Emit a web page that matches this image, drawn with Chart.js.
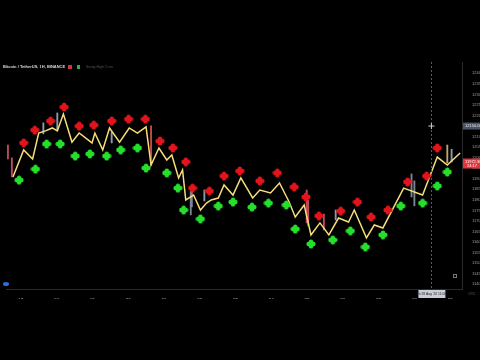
<!DOCTYPE html>
<html>
<head>
<meta charset="utf-8">
<script src="https://cdn.jsdelivr.net/npm/chart.js@4/dist/chart.umd.min.js"></script>
<style>
  body { margin: 0; background: #000; }
  #wrap { width: 480px; height: 360px; }
</style>
</head>
<body>
<div id="wrap"><canvas id="chart" width="480" height="360"></canvas></div>
<script>
// x = day of month (Aug 2020), y = price
const dayTicks = [17, 18, 19, 20, 21, 22, 23, 24, 25, 26, 27, 28, 29];
const dayLabels = ['17', '18', '19', '20', '21', '22', '23', '24', '25', '26', '27', '28', '29'];
const priceTicks = [12400, 12350, 12300, 12250, 12200, 12150, 12100, 12050, 12000, 11950, 11900,
    11850, 11800, 11750, 11700, 11650, 11600, 11550, 11500, 11450, 11400];

// yellow line
const lineDays = [16.78, 17.08, 17.33, 17.50, 17.69, 17.88, 18.02, 18.19, 18.43, 18.63, 18.99, 19.07, 19.29,
    19.48, 19.76, 20.03, 20.26, 20.50, 20.64, 20.86, 21.08, 21.22, 21.41, 21.52, 21.61, 21.83, 22.02, 22.19,
    22.32, 22.52, 22.68, 22.93, 23.15, 23.48, 23.68, 23.98, 24.23, 24.50, 24.67, 24.92, 25.11, 25.36, 25.61,
    25.88, 26.16, 26.32, 26.66, 26.88, 27.12, 27.70, 28.23, 28.64, 28.92, 29.28];
const linePrices = [11909, 12037, 11994, 12117, 12127, 12141, 12127, 12207, 12074, 12117, 12070, 12117, 12037,
    12141, 12074, 12141, 12117, 12146, 11965, 12046, 11989, 12013, 11904, 11942, 11800, 11823, 11752, 11785,
    11800, 11809, 11871, 11823, 11904, 11809, 11847, 11833, 11880, 11790, 11719, 11776, 11634, 11691, 11634,
    11714, 11695, 11752, 11620, 11681, 11667, 11856, 11823, 12003, 11965, 12022];

// red markers (tops)
const redDays = [17.08, 17.39, 17.83, 18.21, 18.63, 19.04, 19.54, 20.01, 20.48, 20.89, 21.25, 21.61, 21.80,
    22.27, 22.68, 23.12, 23.68, 24.17, 24.64, 24.97, 25.33, 25.94, 26.41, 26.79, 27.26, 27.81, 28.34, 28.64];
const redPrices = [12070, 12131, 12174, 12240, 12150, 12155, 12174, 12183, 12183, 12079, 12046, 11980, 11856,
    11842, 11913, 11937, 11890, 11928, 11861, 11814, 11724, 11747, 11790, 11719, 11752, 11885, 11913, 12046];

// green markers (bottoms)
const greenDays = [16.95, 17.41, 17.72, 18.10, 18.52, 18.93, 19.40, 19.79, 20.26, 20.50, 21.08, 21.39, 21.55,
    22.02, 22.52, 22.93, 23.46, 23.92, 24.42, 24.67, 25.11, 25.72, 26.21, 26.63, 27.12, 27.62, 28.23, 28.64, 28.92];
const greenPrices = [11894, 11946, 12065, 12065, 12008, 12018, 12008, 12037, 12046, 11951, 11928, 11856, 11752,
    11710, 11771, 11790, 11766, 11785, 11776, 11662, 11591, 11610, 11653, 11577, 11634, 11771, 11785, 11866, 11932];

// a few visible candle wicks
const candleDays = [16.64, 16.75, 17.63, 18.02, 19.54, 20.64, 21.75, 21.78, 22.13, 24.99, 25.03, 25.47, 25.80,
    27.92, 28.00, 28.92, 29.04];
const candleLows = [11994, 11909, 12113, 12132, 12070, 11965, 11729, 11767, 11795, 11691, 11677, 11658, 11705,
    11814, 11772, 11975, 11980];
const candleHighs = [12060, 11999, 12165, 12212, 12122, 12151, 11842, 11860, 11847, 11847, 11800, 11733, 11752,
    11923, 11890, 12060, 12040];
const candleColors = ['#c24a63', '#c24a63', '#8d9bb0', '#8d9bb0', '#8d9bb0', '#c94b4b', '#7b8794', '#7b8794',
    '#8d9bb0', '#c24a63', '#c24a63', '#c24a63', '#8d9bb0', '#7b8794', '#7b8794', '#c9a06a', '#8d9bb0'];

const crossDay = 28.476, crossPrice = 12150;
const lastPrice = 11972.36;

function clover(color) {
    const c = document.createElement('canvas');
    c.width = 10; c.height = 10;
    const g = c.getContext('2d');
    g.fillStyle = color;
    g.beginPath();
    g.arc(5, 5, 3, 0, Math.PI * 2);
    g.fill();
    [[5, 2.6], [5, 7.4], [2.6, 5], [7.4, 5]].forEach(p => {
        g.beginPath();
        g.arc(p[0], p[1], 2.2, 0, Math.PI * 2);
        g.fill();
    });
    return c;
}

const FONT = 'Liberation Sans';

const overlay = {
    id: 'overlay',
    afterDatasetsDraw(chart) {
        const ctx = chart.ctx;
        const x = chart.scales.x, y = chart.scales.y;
        const area = chart.chartArea;
        ctx.save();
        // crosshair vertical line
        const cx = x.getPixelForValue(crossDay), cy = y.getPixelForValue(crossPrice);
        ctx.strokeStyle = '#5a5a5a';
        ctx.lineWidth = 1;
        ctx.setLineDash([2, 2]);
        ctx.beginPath();
        ctx.moveTo(Math.round(cx) + 0.5, area.top);
        ctx.lineTo(Math.round(cx) + 0.5, area.bottom);
        ctx.stroke();
        ctx.setLineDash([]);
        ctx.strokeStyle = '#cfcfcf';
        ctx.beginPath();
        ctx.moveTo(cx - 3, cy); ctx.lineTo(cx + 3, cy);
        ctx.moveTo(cx, cy - 3); ctx.lineTo(cx, cy + 3);
        ctx.stroke();

        // header
        ctx.font = 'bold 4px ' + FONT;
        ctx.textBaseline = 'middle';
        ctx.fillStyle = '#d8d8d8';
        ctx.fillText('Bitcoin / TetherUS, 1H, BINANCE', 3, 67);
        ctx.fillStyle = '#d0333b';
        ctx.fillRect(68, 65, 4, 4);
        ctx.fillStyle = '#2fae4a';
        ctx.fillRect(77, 65, 3, 4);
        ctx.font = '3.5px ' + FONT;
        ctx.fillStyle = '#555';
        ctx.fillText('Swing High / Low', 86, 67);

        // crosshair price label
        ctx.fillStyle = '#4b5466';
        ctx.fillRect(area.right + 1, cy - 3.5, 18, 7);
        ctx.fillStyle = '#e8e8e8';
        ctx.font = '4px ' + FONT;
        ctx.textAlign = 'left';
        ctx.fillText(crossPrice.toFixed(2), area.right + 3, cy);

        // last price label
        const ly = y.getPixelForValue(lastPrice);
        ctx.fillStyle = '#e3343c';
        ctx.fillRect(area.right + 1, ly - 5, 18, 10);
        ctx.fillStyle = '#fff';
        ctx.fillText(lastPrice.toFixed(2), area.right + 3, ly - 2);
        ctx.fillText('24:17', area.right + 5, ly + 2.5);

        // crosshair date label
        ctx.fillStyle = '#c9cdd6';
        ctx.fillRect(cx - 13, area.bottom + 1, 27, 8);
        ctx.fillStyle = '#1a1a1a';
        ctx.font = '3.3px ' + FONT;
        ctx.textAlign = 'center';
        ctx.fillText("Fri 28 Aug '20 11:00", cx, area.bottom + 5);

        // logo + small icons
        ctx.fillStyle = '#2a6fd6';
        ctx.beginPath();
        ctx.ellipse(6, 284, 3, 2, 0, 0, Math.PI * 2);
        ctx.fill();
        ctx.strokeStyle = '#777';
        ctx.strokeRect(453.5, 274.5, 3, 3);
        ctx.fillStyle = '#666';
        ctx.fillText('UTC', 472, area.bottom + 5);
        ctx.restore();
    }
};

const lineData = lineDays.map((d, i) => ({ x: d, y: linePrices[i] }));
const redData = redDays.map((d, i) => ({ x: d, y: redPrices[i] }));
const greenData = greenDays.map((d, i) => ({ x: d, y: greenPrices[i] }));
const candleData = candleDays.map((d, i) => ({ x: d, y: [candleLows[i], candleHighs[i]] }));

new Chart(document.getElementById('chart'), {
    type: 'line',
    data: {
        datasets: [
            {
                type: 'scatter', data: redData, order: 0,
                pointStyle: clover('#e3141c'), pointRadius: 5
            },
            {
                type: 'scatter', data: greenData, order: 0,
                pointStyle: clover('#25e02c'), pointRadius: 5
            },
            {
                type: 'line', data: lineData, order: 1,
                borderColor: '#f6dd78', borderWidth: 1.5, pointRadius: 0, tension: 0
            },
            {
                type: 'bar', data: candleData, order: 2,
                backgroundColor: candleColors, barThickness: 1.2, borderWidth: 0
            }
        ]
    },
    options: {
        responsive: false,
        animation: false,
        layout: { padding: { top: 62, bottom: 61, left: 0, right: 0 } },
        plugins: { legend: { display: false }, tooltip: { enabled: false } },
        scales: {
            x: {
                type: 'linear', min: 16.586, max: 29.331, offset: false,
                grid: { display: false, offset: false },
                border: { color: '#2a2a2a' },
                afterBuildTicks: s => { s.ticks = dayTicks.map(v => ({ value: v })); },
                afterFit: s => { s.height = 10; },
                ticks: {
                    autoSkip: false, maxRotation: 0, padding: 1,
                    color: '#a0a0a0', font: { family: FONT, size: 4.5 },
                    callback: v => dayLabels[dayTicks.indexOf(v)]
                }
            },
            y: {
                type: 'linear', position: 'right', min: 11377.7, max: 12453.6,
                grid: { display: false },
                border: { color: '#2a2a2a' },
                afterBuildTicks: s => { s.ticks = priceTicks.map(v => ({ value: v })); },
                afterFit: s => { s.width = 18; },
                ticks: {
                    autoSkip: false, padding: 2,
                    color: '#a0a0a0', font: { family: FONT, size: 4 },
                    callback: v => v.toFixed(2)
                }
            }
        }
    },
    plugins: [overlay]
});
</script>
</body>
</html>
